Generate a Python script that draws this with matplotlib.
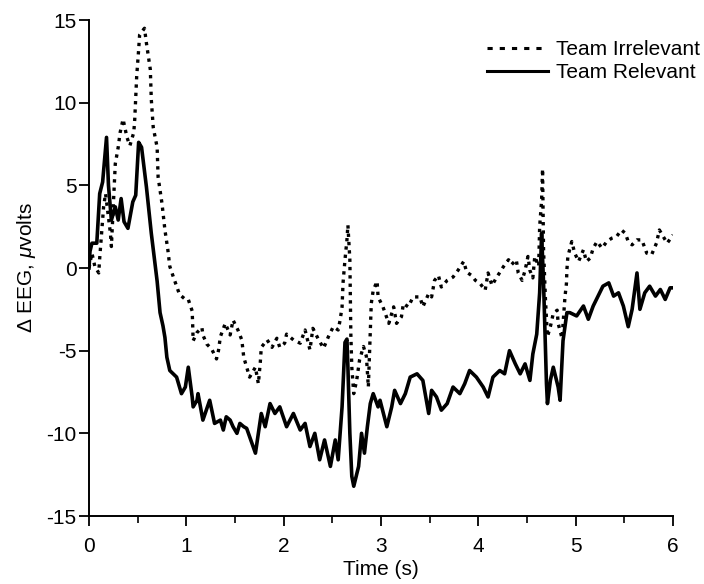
import matplotlib
matplotlib.use('Agg')
import matplotlib.pyplot as plt
from matplotlib.lines import Line2D
from matplotlib.ticker import MultipleLocator

plt.rcParams['font.family'] = ['Liberation Sans', 'DejaVu Sans']
plt.rcParams['axes.unicode_minus'] = False
plt.rcParams['mathtext.fontset'] = 'custom'
plt.rcParams['mathtext.rm'] = 'Liberation Sans'
plt.rcParams['mathtext.it'] = 'Liberation Sans:italic'

# Team Relevant (solid)
rel_t = [0.00, 0.01, 0.03, 0.08, 0.11, 0.14, 0.18, 0.20, 0.23, 0.27, 0.30, 0.33, 0.36, 0.40,
         0.45, 0.48, 0.51, 0.54, 0.59, 0.64, 0.70, 0.73, 0.76, 0.78, 0.80, 0.83, 0.90, 0.95,
         0.99, 1.02, 1.06, 1.07, 1.11, 1.12, 1.17, 1.24, 1.29, 1.35, 1.38, 1.41, 1.45, 1.48,
         1.52, 1.55, 1.59, 1.62, 1.65, 1.71, 1.74, 1.77, 1.81, 1.86, 1.91, 1.96, 2.03, 2.10,
         2.17, 2.22, 2.27, 2.32, 2.37, 2.42, 2.48, 2.53, 2.56, 2.60, 2.63, 2.65, 2.66, 2.68,
         2.70, 2.72, 2.77, 2.80, 2.83, 2.86, 2.89, 2.92, 2.97, 2.99, 3.06, 3.11, 3.14, 3.20,
         3.25, 3.30, 3.37, 3.43, 3.49, 3.52, 3.57, 3.62, 3.68, 3.74, 3.81, 3.86, 3.91, 3.98,
         4.05, 4.10, 4.15, 4.22, 4.27, 4.32, 4.38, 4.43, 4.48, 4.53, 4.56, 4.60, 4.63, 4.65,
         4.67, 4.70, 4.71, 4.74, 4.77, 4.82, 4.84, 4.87, 4.91, 4.94, 5.01, 5.08, 5.13, 5.18,
         5.23, 5.28, 5.34, 5.39, 5.44, 5.49, 5.54, 5.58, 5.63, 5.66, 5.71, 5.76, 5.82, 5.87,
         5.92, 5.97, 6.00]
rel_v = [0.0, 1.0, 1.5, 1.5, 4.5, 5.2, 7.9, 5.0, 2.9, 3.7, 2.9, 4.2, 2.8, 2.4,
         4.0, 4.4, 7.6, 7.3, 4.9, 2.1, -0.8, -2.7, -3.5, -4.2, -5.4, -6.2, -6.6, -7.6,
         -7.2, -6.0, -7.8, -8.4, -8.0, -7.6, -9.2, -8.0, -9.4, -9.2, -9.8, -9.0, -9.2, -9.6,
         -10.0, -9.4, -9.6, -9.7, -10.2, -11.2, -10.0, -8.8, -9.6, -8.2, -8.8, -8.4, -9.6, -8.8,
         -9.8, -9.4, -10.8, -10.0, -11.6, -10.4, -12.0, -10.4, -11.6, -8.4, -4.5, -4.3, -6.0, -10.0,
         -12.6, -13.2, -12.0, -10.0, -11.2, -9.6, -8.2, -7.6, -8.4, -8.0, -9.6, -8.4, -7.4, -8.2,
         -7.6, -6.6, -6.4, -6.8, -8.8, -7.4, -7.8, -8.6, -8.2, -7.2, -7.6, -7.0, -6.2, -6.6,
         -7.2, -7.8, -6.6, -6.2, -6.4, -5.0, -5.8, -6.4, -5.8, -6.8, -5.2, -4.0, -1.5, 2.1,
         -0.9, -7.0, -8.2, -6.8, -6.0, -7.2, -8.0, -4.4, -2.7, -2.7, -2.9, -2.3, -3.1, -2.3,
         -1.7, -1.1, -0.9, -1.7, -1.5, -2.3, -3.55, -2.5, -0.3, -2.5, -1.5, -1.1, -1.7, -1.3,
         -1.9, -1.2, -1.2]

# Team Irrelevant (dotted)
irr_t = [0.00, 0.03, 0.06, 0.10, 0.11, 0.15, 0.17, 0.22, 0.23, 0.27, 0.30, 0.32, 0.35, 0.39,
         0.42, 0.46, 0.47, 0.49, 0.51, 0.52, 0.57, 0.59, 0.63, 0.64, 0.66, 0.70, 0.71, 0.75,
         0.78, 0.81, 0.83, 0.87, 0.90, 0.93, 0.99, 1.02, 1.06, 1.065, 1.07, 1.11, 1.16, 1.17,
         1.21, 1.26, 1.31, 1.33, 1.35, 1.40, 1.45, 1.48, 1.53, 1.57, 1.59, 1.64, 1.65, 1.71,
         1.74, 1.76, 1.77, 1.83, 1.88, 1.93, 1.96, 2.01, 2.03, 2.10, 2.17, 2.22, 2.27, 2.30,
         2.36, 2.41, 2.46, 2.51, 2.56, 2.58, 2.60, 2.61, 2.63, 2.65, 2.66, 2.68, 2.685, 2.69,
         2.70, 2.72, 2.75, 2.78, 2.82, 2.85, 2.87, 2.88, 2.89, 2.90, 2.92, 2.96, 2.97, 3.02,
         3.08, 3.13, 3.16, 3.21, 3.23, 3.28, 3.33, 3.40, 3.43, 3.49, 3.52, 3.55, 3.59, 3.62,
         3.68, 3.74, 3.79, 3.85, 3.88, 3.93, 3.97, 4.02, 4.07, 4.10, 4.14, 4.19, 4.26, 4.31,
         4.34, 4.39, 4.41, 4.45, 4.48, 4.51, 4.53, 4.56, 4.58, 4.62, 4.63, 4.65, 4.66, 4.67,
         4.69, 4.71, 4.74, 4.77, 4.81, 4.82, 4.86, 4.89, 4.905, 4.91, 4.92, 4.96, 4.99, 5.03,
         5.08, 5.11, 5.15, 5.18, 5.22, 5.27, 5.32, 5.37, 5.42, 5.47, 5.51, 5.54, 5.58, 5.63,
         5.68, 5.73, 5.78, 5.83, 5.86, 5.94, 6.00]
irr_v = [0.0, 0.9, 0.1, -0.3, 0.6, 3.7, 4.5, 2.1, 1.3, 6.3, 7.3, 8.2, 9.0, 7.9,
         7.4, 8.2, 9.0, 11.6, 13.2, 14.1, 14.5, 13.6, 12.0, 10.2, 8.5, 7.3, 5.5, 3.9,
         2.3, 1.1, 0.1, -0.6, -1.1, -1.6, -1.9, -1.9, -2.6, -3.4, -4.4, -3.9, -3.6, -4.05,
         -4.6, -4.9, -5.5, -5.0, -4.15, -3.35, -4.05, -3.15, -3.75, -4.35, -5.4, -6.4, -6.6, -6.0,
         -7.0, -5.7, -4.8, -4.35, -4.8, -4.25, -4.8, -4.55, -4.0, -4.35, -4.55, -3.75, -4.95, -3.65,
         -4.35, -4.85, -4.15, -3.55, -3.75, -3.15, -2.35, -0.9, 0.5, 1.7, 2.6, 0.5, -1.9, -4.0,
         -6.0, -7.6, -6.8, -5.55, -4.75, -5.35, -7.2, -5.55, -3.95, -2.15, -1.35, -0.8, -1.75, -2.35,
         -3.35, -2.35, -3.35, -2.95, -2.15, -2.35, -1.75, -1.75, -2.35, -1.55, -1.75, -0.75, -0.45, -1.15,
         -0.75, -0.55, -0.15, 0.4, -0.25, -0.45, -0.75, -0.95, -1.35, -0.3, -1.05, -0.55, 0.1, 0.5,
         0.2, 0.5, -0.3, -0.75, -0.15, 0.7, -0.15, -0.6, 0.7, 0.1, 2.5, 4.1, 6.0, 1.1,
         -1.95, -4.15, -3.55, -2.75, -2.55, -3.35, -4.25, -1.75, -0.95, -0.1, 0.7, 1.6, 0.9, 0.4,
         1.1, 0.4, 0.6, 1.2, 1.6, 1.2, 1.6, 1.8, 1.9, 2.3, 2.1, 1.6, 1.4, 1.7,
         1.7, 0.9, 0.8, 1.5, 2.3, 1.5, 2.0]

labels = ['Team Irrelevant', 'Team Relevant']

fig = plt.figure(figsize=(7.04, 5.84), dpi=100)
ax = fig.add_axes([89 / 704, 68 / 584, 584 / 704, 496 / 584])

ax.plot(irr_t, irr_v, color='black', lw=2.4, linestyle=(0, (1, 1.5)), dash_capstyle='butt')
ax.plot(rel_t, rel_v, color='black', lw=2.6)

ax.set_xlim(0, 6)
ax.set_ylim(-15, 15)
ax.set_xticks(range(0, 7))
ax.xaxis.set_minor_locator(MultipleLocator(0.5))
ax.set_yticks(range(-15, 16, 5))
for s in ['top', 'right']:
    ax.spines[s].set_visible(False)
for s in ['left', 'bottom']:
    ax.spines[s].set_linewidth(1.4)
ax.tick_params(which='major', direction='out', length=7, width=1.3, labelsize=15, pad=8)
ax.tick_params(which='minor', direction='out', length=5, width=1.2)
ax.tick_params(axis='y', pad=2)

ax.set_xlabel('Time (s)', fontsize=15, labelpad=3)
ax.set_ylabel(r'$\Delta$ EEG, $\mu$volts', fontsize=15, labelpad=6)

handles = [Line2D([], [], color='black', lw=2.2, linestyle=(0, (1.7, 2.3))),
           Line2D([], [], color='black', lw=2.2)]
fig.legend(handles, labels, loc='upper right', bbox_to_anchor=(700 / 704, 1 - 40 / 584),
           frameon=False, fontsize=15, handlelength=2.9, handletextpad=0.4,
           labelspacing=0.2, borderpad=0, borderaxespad=0)

fig.savefig('out.png', dpi=100, facecolor='white')
